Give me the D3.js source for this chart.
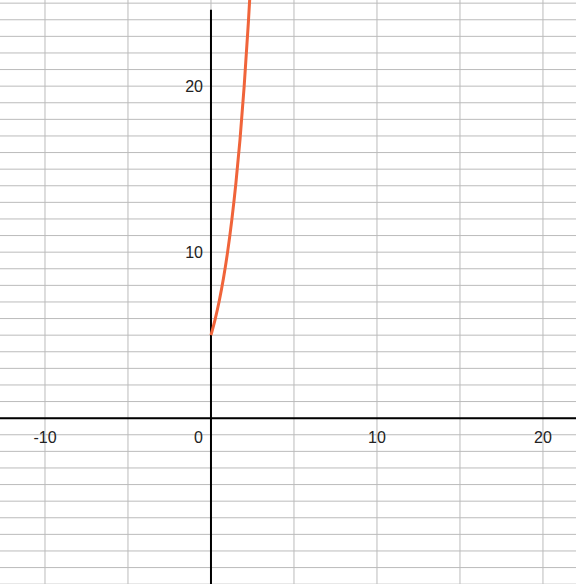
<!DOCTYPE html>
<html><head><meta charset="utf-8">
<script src="https://cdn.jsdelivr.net/npm/d3@7"></script>
<style>body{margin:0;background:#fff}text{font-family:Helvetica,"Liberation Sans",Arial,sans-serif;font-size:16px;fill:#222}</style>
</head><body><svg id="c" width="576" height="584"></svg>
<script>
const curveX = [0, 0.25, 0.5, 0.75, 1, 1.25, 1.5, 1.75, 2, 2.25, 2.4];
const curveY = [5, 5.95, 7.07, 8.41, 10, 11.9, 14.14, 16.8, 20, 23.8, 26.4];
const xTicks = [-10, 0, 10, 20];
const yTicks = [10, 20];

const W = 576, H = 584;
const svg = d3.select("#c");
const x = d3.scaleLinear().domain([-12.71, 21.99]).range([0, W]);
const y = d3.scaleLinear().domain([-9.99, 25.19]).range([H, 0]);

const g = svg.append("g");
g.selectAll(".h").data(d3.range(-10, 26)).join("line")
  .attr("x1", 0).attr("x2", W).attr("y1", d => y(d)).attr("y2", d => y(d))
  .attr("stroke", "#bbb").attr("stroke-width", 1);
g.selectAll(".v").data(d3.range(-10, 25, 5)).join("line")
  .attr("y1", 0).attr("y2", H).attr("x1", d => x(d)).attr("x2", d => x(d))
  .attr("stroke", "#bbb").attr("stroke-width", 1);

svg.append("line").attr("x1", 0).attr("x2", W).attr("y1", y(0)).attr("y2", y(0))
  .attr("stroke", "#000").attr("stroke-width", 2);
svg.append("line").attr("y1", y(24.6)).attr("y2", H).attr("x1", x(0)).attr("x2", x(0))
  .attr("stroke", "#000").attr("stroke-width", 2);

svg.selectAll(".xl").data(xTicks).join("text")
  .attr("x", d => d === 0 ? x(0) - 8 : x(d)).attr("y", y(0) + 25)
  .attr("text-anchor", d => d === 0 ? "end" : "middle").text(d => d);
svg.selectAll(".yl").data(yTicks).join("text")
  .attr("x", x(0) - 8).attr("y", d => y(d) + 6)
  .attr("text-anchor", "end").text(d => d);

const line = d3.line().x(d => x(d[0])).y(d => y(d[1])).curve(d3.curveMonotoneX);
svg.append("path").datum(curveX.map((v, i) => [v, curveY[i]]))
  .attr("d", line).attr("fill", "none").attr("stroke", "#f0643a").attr("stroke-width", 3);
</script></body></html>
